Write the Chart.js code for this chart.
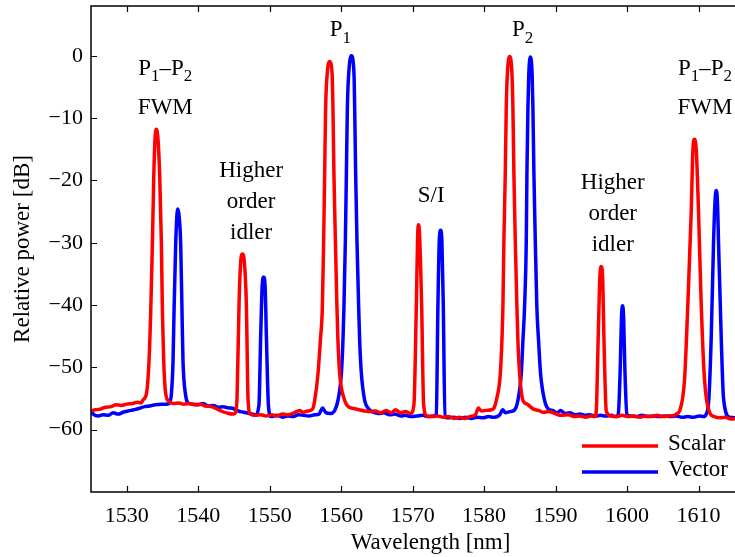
<!DOCTYPE html>
<html lang="en">
<head>
<meta charset="UTF-8">
<title>Relative power spectrum</title>
<script src="https://cdn.jsdelivr.net/npm/chart.js"></script>
<style>
    html, body { margin: 0; padding: 0; background: #fff; overflow: hidden; }
    canvas { display: block; }
</style>
</head>
<body>
<!-- the original axes run on past the right edge of the picture, so the canvas is a bit wider than the window -->
<canvas id="spectrumChart" width="770" height="557"></canvas>
<script>
// Scalar (red) trace
const scalarNm = [1525.0, 1525.6, 1526.3, 1527.0, 1527.8, 1528.5, 1529.2, 1530.0, 1530.8, 1531.5, 1532.0,
    1532.3, 1532.76, 1533.12, 1533.36, 1533.59, 1533.78, 1533.95, 1534.15, 1534.38, 1534.62, 1534.85, 1534.99, 1535.17, 1535.45,
    1536.0, 1536.6, 1537.3, 1538.0, 1538.8, 1539.5, 1540.3, 1541.0, 1541.8, 1542.5, 1543.2, 1544.0, 1544.8, 1545.2,
    1545.43, 1545.71, 1545.95, 1546.18, 1546.45, 1546.74, 1546.97,
    1547.3, 1548.0, 1548.8, 1549.5, 1550.3, 1551.0, 1551.8, 1552.6, 1553.4, 1554.2, 1554.6, 1555.3, 1556.0,
    1556.3, 1556.76, 1557.09, 1557.37, 1557.55, 1557.69, 1557.83, 1558.04, 1558.39, 1558.74, 1558.85, 1558.99, 1559.19, 1559.41, 1559.55, 1559.79, 1560.5,
    1561.0, 1561.8, 1562.5, 1563.3, 1564.0, 1564.8, 1565.5, 1566.3, 1567.0, 1567.6, 1568.3, 1569.0, 1569.7,
    1570.18, 1570.52, 1570.7, 1570.84, 1570.98, 1571.26, 1571.54,
    1572.0, 1572.8, 1573.5, 1574.3, 1575.0, 1575.8, 1576.5, 1577.3, 1578.0, 1578.8, 1579.2, 1579.6, 1580.3, 1581.0, 1581.4,
    1581.71, 1582.27, 1582.49, 1582.63, 1582.77, 1582.96, 1583.1, 1583.25, 1583.57, 1583.9, 1584.03, 1584.17, 1584.36, 1584.59, 1584.73, 1584.97, 1585.43,
    1586.0, 1586.9, 1587.6, 1588.3, 1589.0, 1589.9, 1590.8, 1591.8, 1592.6, 1593.4, 1594.2, 1595.0, 1595.5,
    1595.69, 1595.97, 1596.2, 1596.39, 1596.58, 1596.76, 1597.09,
    1597.7, 1598.5, 1599.3, 1600.2, 1601.0, 1601.8, 1602.6, 1603.4, 1604.2, 1605.0, 1605.8, 1606.6, 1607.0,
    1607.34, 1608.04, 1608.5, 1608.98, 1609.2, 1609.44, 1609.7, 1610.0, 1610.38, 1610.84, 1611.54,
    1612.2, 1613.0, 1613.8, 1614.5, 1615.2];
const scalarDb = [-57.0, -56.8, -56.7, -56.4, -56.3, -56.0, -56.1, -55.9, -55.8, -55.6, -55.7,
    -55.2, -54.2, -48.9, -40.9, -30.2, -19.5, -13.5, -11.8, -13.5, -19.5, -30.2, -40.9, -48.9, -54.2,
    -55.6, -55.8, -55.7, -55.9, -55.8, -56.0, -55.9, -56.2, -56.3, -56.6, -57.0, -57.3, -57.5, -57.3,
    -55.0, -40.0, -33.0, -31.8, -33.0, -40.0, -55.0,
    -57.5, -57.7, -57.6, -57.8, -57.6, -57.8, -57.5, -57.6, -57.3, -56.9, -57.2, -57.0, -56.7,
    -55.3, -51.0, -45.7, -40.3, -29.6, -19.0, -8.3, -3.0, -0.9, -3.0, -8.3, -19.0, -29.6, -40.3, -45.7, -51.0, -55.3,
    -56.3, -56.6, -56.8, -57.0, -57.1, -57.0, -57.3, -56.9, -57.3, -56.8, -57.3, -57.1, -57.4,
    -56.0, -40.0, -29.0, -27.1, -29.0, -40.0, -56.0,
    -57.8, -57.9, -57.8, -58.0, -57.9, -58.2, -58.0, -58.2, -57.9, -57.6, -56.5, -57.0, -56.9, -56.8, -56.5,
    -55.3, -51.0, -45.7, -40.3, -29.6, -19.0, -8.3, -3.0, -0.1, -3.0, -8.3, -19.0, -29.6, -40.3, -45.7, -51.0, -55.3,
    -55.9, -56.7, -56.9, -57.2, -57.1, -57.4, -57.7, -57.6, -57.9, -57.8, -58.0, -57.8, -57.9,
    -57.0, -45.0, -35.5, -33.8, -35.5, -45.0, -57.0,
    -57.8, -57.9, -57.7, -57.9, -57.8, -58.0, -57.8, -57.9, -57.7, -57.9, -57.8, -57.7, -57.4,
    -57.0, -52.0, -40.0, -25.0, -15.5, -13.4, -15.5, -25.0, -40.0, -52.0, -57.2,
    -57.9, -58.1, -58.0, -58.3, -58.2];

// Vector (blue) trace
const vectorNm = [1525.0, 1525.4, 1526.0, 1526.7, 1527.4, 1528.1, 1528.8, 1529.5, 1530.2, 1531.0, 1531.7, 1532.5, 1533.2, 1534.0, 1534.8, 1535.5,
    1535.92, 1536.25, 1536.48, 1536.62, 1536.85, 1537.0, 1537.17, 1537.35, 1537.55, 1537.73, 1537.87, 1538.21, 1538.71,
    1539.3, 1540.0, 1540.7, 1541.4, 1542.1, 1542.8, 1543.5, 1544.2, 1544.9, 1545.6, 1546.4, 1547.2, 1548.0,
    1548.5, 1548.74, 1548.95, 1549.16, 1549.36, 1549.54, 1549.82,
    1550.2, 1551.0, 1551.8, 1552.5, 1553.3, 1554.0, 1554.8, 1555.5, 1556.3, 1556.9, 1557.4, 1557.8, 1558.5, 1559.0,
    1559.55, 1560.03, 1560.25, 1560.39, 1560.59, 1560.73, 1560.87, 1561.05, 1561.43, 1561.8, 1561.89, 1562.03, 1562.21, 1562.45, 1562.59, 1562.83, 1563.29,
    1563.8, 1564.5, 1565.2, 1566.0, 1566.8, 1567.5, 1568.3, 1569.0, 1569.8, 1570.6, 1571.4, 1572.2, 1572.9,
    1573.31, 1573.54, 1573.72, 1573.92, 1574.1, 1574.29, 1574.52,
    1575.0, 1575.8, 1576.6, 1577.4, 1578.2, 1579.0, 1579.8, 1580.6, 1581.4, 1582.2, 1582.6, 1583.0, 1583.6, 1584.2,
    1584.73, 1585.2, 1585.43, 1585.66, 1585.9, 1585.99, 1586.13, 1586.25, 1586.46, 1586.72, 1586.83, 1586.97, 1587.16, 1587.38, 1587.62, 1587.9, 1588.46,
    1589.0, 1589.6, 1590.2, 1590.7, 1591.3, 1592.0, 1592.7, 1593.4, 1594.1, 1594.8, 1595.5, 1596.3, 1597.0, 1597.8, 1598.4,
    1598.77, 1599.05, 1599.22, 1599.37, 1599.52, 1599.69, 1599.97,
    1600.5, 1601.3, 1602.1, 1602.9, 1603.7, 1604.5, 1605.3, 1606.1, 1606.9, 1607.7, 1608.5, 1609.3, 1610.1, 1610.7,
    1611.08, 1611.45, 1611.78, 1612.1, 1612.3, 1612.48, 1612.65, 1612.8, 1613.17, 1613.5, 1614.34, 1615.2];
const vectorDb = [-57.0, -57.6, -57.8, -57.6, -57.7, -57.3, -57.5, -57.2, -57.0, -56.8, -56.6, -56.3, -56.2, -56.0, -55.9, -55.9,
    -55.8, -54.2, -48.9, -40.9, -30.2, -26.0, -24.6, -26.0, -30.2, -40.9, -48.9, -54.2, -55.8,
    -55.9, -56.0, -55.8, -56.2, -56.1, -56.4, -56.3, -56.5, -56.6, -57.0, -57.2, -57.4, -57.6,
    -56.0, -45.0, -37.0, -35.5, -37.0, -45.0, -56.0,
    -57.9, -57.7, -58.0, -57.8, -57.9, -57.6, -57.7, -57.8, -57.6, -57.5, -56.5, -57.2, -57.4, -57.1,
    -55.3, -51.0, -45.7, -40.3, -29.6, -19.0, -8.3, -3.0, 0.0, -3.0, -8.3, -19.0, -29.6, -40.3, -45.7, -51.0, -55.3,
    -56.6, -57.2, -57.4, -57.3, -57.6, -57.5, -57.8, -57.7, -57.9, -57.8, -57.7, -57.9, -57.8,
    -57.5, -40.0, -30.0, -28.0, -30.0, -40.0, -58.0,
    -58.1, -58.0, -58.2, -58.0, -58.2, -58.0, -58.1, -57.9, -58.0, -57.6, -56.8, -57.3, -57.1, -56.9,
    -55.3, -51.0, -45.7, -40.3, -29.6, -19.0, -8.3, -3.0, -0.2, -3.0, -8.3, -19.0, -29.6, -40.3, -45.7, -51.0, -55.3,
    -56.7, -56.9, -57.3, -56.9, -57.4, -57.3, -57.6, -57.5, -57.7, -57.6, -57.8, -57.7, -57.8, -57.7, -57.9,
    -57.5, -50.0, -42.0, -40.1, -42.0, -50.0, -57.5,
    -57.8, -57.9, -57.7, -57.9, -57.8, -57.9, -57.8, -57.9, -57.8, -58.0, -57.9, -58.0, -57.8, -57.9,
    -57.5, -55.0, -45.0, -30.0, -23.5, -21.6, -23.5, -30.0, -45.0, -55.0, -58.0, -58.1];

const xTicks = [1530, 1540, 1550, 1560, 1570, 1580, 1590, 1600, 1610, 1620];
const yTicks = [-60, -50, -40, -30, -20, -10, 0];

// peak labels: text pieces [string, isSubscript], anchored at (nm, dB) baseline centre
const peakLabels = [
    { parts: [['P', 0], ['1', 1], ['\u2013P', 0], ['2', 1]], x: 1535.4, y: -3.0 },
    { parts: [['FWM', 0]], x: 1535.4, y: -9.3 },
    { parts: [['Higher', 0]], x: 1547.4, y: -19.4 },
    { parts: [['order', 0]], x: 1547.4, y: -24.4 },
    { parts: [['idler', 0]], x: 1547.4, y: -29.4 },
    { parts: [['P', 0], ['1', 1]], x: 1559.9, y: 3.2 },
    { parts: [['S/I', 0]], x: 1572.6, y: -23.5 },
    { parts: [['P', 0], ['2', 1]], x: 1585.4, y: 3.2 },
    { parts: [['Higher', 0]], x: 1598.0, y: -21.4 },
    { parts: [['order', 0]], x: 1598.0, y: -26.4 },
    { parts: [['idler', 0]], x: 1598.0, y: -31.4 },
    { parts: [['P', 0], ['1', 1], ['\u2013P', 0], ['2', 1]], x: 1610.9, y: -3.0 },
    { parts: [['FWM', 0]], x: 1610.9, y: -9.3 }
];

const FONT = "'Liberation Serif', 'Times New Roman', serif";

function drawRich(ctx, parts, cx, by, size) {
    const subSize = Math.round(size * 0.72);
    let total = 0;
    parts.forEach(p => {
        ctx.font = (p[1] ? subSize : size) + 'px ' + FONT;
        total += ctx.measureText(p[0]).width;
    });
    let x = cx - total / 2;
    parts.forEach(p => {
        ctx.font = (p[1] ? subSize : size) + 'px ' + FONT;
        ctx.fillText(p[0], x, p[1] ? by + size * 0.3 : by);
        x += ctx.measureText(p[0]).width;
    });
}

const decorPlugin = {
    id: 'decor',
    afterDraw(chart) {
        const ctx = chart.ctx;
        const a = chart.chartArea;
        const xs = chart.scales.x, ys = chart.scales.y;
        ctx.save();
        ctx.strokeStyle = '#000';
        ctx.lineWidth = 1.5;
        // frame (top, left, bottom)
        ctx.beginPath();
        ctx.moveTo(a.right, a.top);
        ctx.lineTo(a.left, a.top);
        ctx.lineTo(a.left, a.bottom);
        ctx.lineTo(a.right, a.bottom);
        ctx.stroke();
        // inward ticks
        ctx.lineWidth = 1.2;
        ctx.beginPath();
        xTicks.forEach(v => {
            const px = Math.round(xs.getPixelForValue(v)) + 0.5;
            ctx.moveTo(px, a.bottom); ctx.lineTo(px, a.bottom - 6);
            ctx.moveTo(px, a.top); ctx.lineTo(px, a.top + 6);
        });
        yTicks.forEach(v => {
            const py = Math.round(ys.getPixelForValue(v)) + 0.5;
            ctx.moveTo(a.left, py); ctx.lineTo(a.left + 6, py);
        });
        ctx.stroke();
        // peak labels
        ctx.fillStyle = '#000';
        ctx.textBaseline = 'alphabetic';
        ctx.textAlign = 'left';
        peakLabels.forEach(l => {
            drawRich(ctx, l.parts, xs.getPixelForValue(l.x), ys.getPixelForValue(l.y), 23);
        });
        // legend, lower right inside the axes
        const items = [['Scalar', chart.data.datasets[0].borderColor], ['Vector', chart.data.datasets[1].borderColor]];
        ctx.font = '23px ' + FONT;
        ctx.textBaseline = 'middle';
        items.forEach((it, i) => {
            const y = 446 + i * 26;
            ctx.strokeStyle = it[1];
            ctx.lineWidth = 3.5;
            ctx.beginPath();
            ctx.moveTo(582, y); ctx.lineTo(658, y);
            ctx.stroke();
            ctx.fillText(it[0], 668, y - 2);
        });
        ctx.restore();
    }
};

const ctx = document.getElementById('spectrumChart').getContext('2d');
new Chart(ctx, {
    type: 'line',
    data: {
        datasets: [
            {
                label: 'Scalar',
                data: scalarNm.map((x, i) => ({ x: x, y: scalarDb[i] })),
                borderColor: '#ff0000',
                borderWidth: 3.5,
                pointRadius: 0,
                cubicInterpolationMode: 'monotone',
                fill: false
            },
            {
                label: 'Vector',
                data: vectorNm.map((x, i) => ({ x: x, y: vectorDb[i] })),
                borderColor: '#0000ff',
                borderWidth: 3.5,
                pointRadius: 0,
                cubicInterpolationMode: 'monotone',
                fill: false
            }
        ]
    },
    options: {
        responsive: false,
        animation: false,
        devicePixelRatio: 1,
        layout: { padding: { top: 6, right: 0, left: 0, bottom: 0 } },
        plugins: { legend: { display: false }, tooltip: { enabled: false } },
        scales: {
            x: {
                type: 'linear',
                min: 1525,
                max: 1620,
                afterBuildTicks: s => { s.ticks = xTicks.map(v => ({ value: v })); },
                afterFit: s => { s.height = 65; s.paddingLeft = 0; s.paddingRight = 0; },
                grid: { display: false, drawTicks: false },
                border: { display: false },
                ticks: { color: '#000', padding: 11, maxRotation: 0, font: { family: FONT, size: 22 }, callback: v => '' + v },
                title: { display: true, text: 'Wavelength [nm]', color: '#000', padding: { top: 0, bottom: 0 }, font: { family: FONT, size: 23 } }
            },
            y: {
                type: 'linear',
                min: -70,
                max: 8,
                afterBuildTicks: s => { s.ticks = yTicks.map(v => ({ value: v })); },
                afterFit: s => { s.width = 91; s.paddingTop = 0; s.paddingBottom = 0; },
                grid: { display: false, drawTicks: false },
                border: { display: false },
                ticks: {
                    color: '#000', padding: 8, font: { family: FONT, size: 22 },
                    callback: v => (v < 0 ? '\u2212' + Math.abs(v) : '' + v)
                },
                title: { display: true, text: 'Relative power [dB]', color: '#000', padding: { top: 9, bottom: 0 }, font: { family: FONT, size: 23 } }
            }
        }
    },
    plugins: [decorPlugin]
});
</script>
</body>
</html>
